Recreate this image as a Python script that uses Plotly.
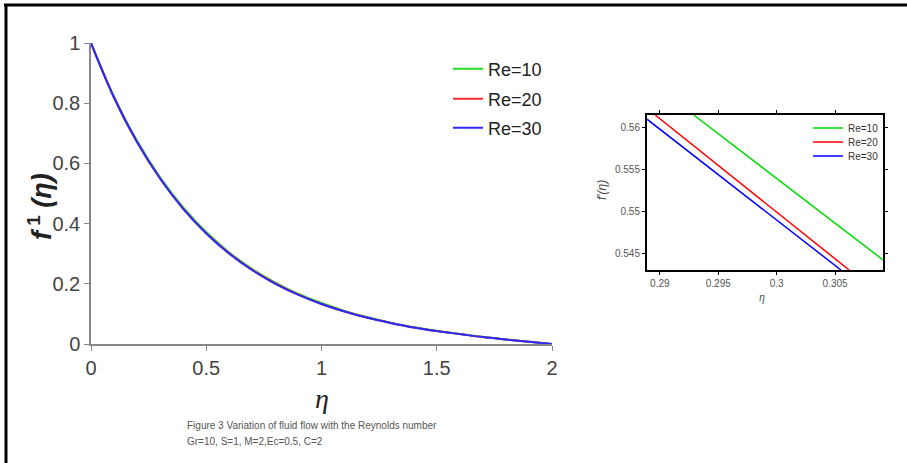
import plotly.graph_objects as go

# ---- data ----
eta = [0.0, 0.1, 0.2, 0.3, 0.4, 0.5, 0.6, 0.7, 0.8, 0.9, 1.0,
       1.1, 1.2, 1.3, 1.4, 1.5, 1.6, 1.7, 1.8, 1.9, 2.0]
f_re10 = [1.0, 0.822, 0.675, 0.554, 0.454, 0.372, 0.304, 0.249, 0.204, 0.166, 0.136,
          0.110, 0.089, 0.071, 0.056, 0.044, 0.033, 0.024, 0.015, 0.0075, 0.0]
f_re20 = [1.0, 0.819, 0.671, 0.550, 0.450, 0.368, 0.301, 0.246, 0.201, 0.164, 0.133,
          0.108, 0.087, 0.070, 0.055, 0.043, 0.033, 0.023, 0.015, 0.0074, 0.0]
f_re30 = [1.0, 0.818, 0.670, 0.549, 0.449, 0.367, 0.300, 0.245, 0.200, 0.163, 0.133,
          0.108, 0.087, 0.070, 0.055, 0.043, 0.033, 0.023, 0.015, 0.0074, 0.0]
names = ["Re=10", "Re=20", "Re=30"]

# inset (zoomed) segments
zx_re10 = [0.2929, 0.3091]
zy_re10 = [0.5615, 0.5443]
zx_re20 = [0.2896, 0.3062]
zy_re20 = [0.5615, 0.5431]
zx_re30 = [0.2889, 0.3055]
zy_re30 = [0.5610, 0.5431]

main_xticks = [0, 0.5, 1, 1.5, 2]
main_xlabels = ["0", "0.5", "1", "1.5", "2"]
main_yticks = [0, 0.2, 0.4, 0.6, 0.8, 1]
main_ylabels = ["0", "0.2", "0.4", "0.6", "0.8", "1"]
ins_xticks = [0.29, 0.295, 0.3, 0.305]
ins_xlabels = ["0.29", "0.295", "0.3", "0.305"]
ins_yticks = [0.545, 0.55, 0.555, 0.56]
ins_ylabels = ["0.545", "0.55", "0.555", "0.56"]

caption1 = "Figure 3 Variation of fluid flow with the Reynolds number"
caption2 = "Gr=10, S=1, M=2,Ec=0.5, C=2"

main_colors = ["#22dd22", "#ff2a2a", "#2a2aff"]
ins_colors = ["#00dd00", "#ff0000", "#0000ff"]

W, H = 907, 463


def px_x(p):
    return p / W


def px_y(p):
    return 1 - p / H


main_leg_rows = [69, 99, 128]
ins_leg_rows = [128, 142, 156]

fig = go.Figure()
for i, (y, n, c) in enumerate(zip([f_re10, f_re20, f_re30], names, main_colors)):
    fig.add_trace(go.Scatter(x=eta, y=y, mode="lines", name=n,
                             line=dict(color=c, width=2, shape="spline"),
                             xaxis="x", yaxis="y", legend="legend" if i == 0 else f"legend{i+1}"))
for i, (x, y, n, c) in enumerate(zip([zx_re10, zx_re20, zx_re30], [zy_re10, zy_re20, zy_re30],
                                     names, ins_colors)):
    fig.add_trace(go.Scatter(x=x, y=y, mode="lines", name=n,
                             line=dict(color=c, width=1.5),
                             xaxis="x2", yaxis="y2", legend=f"legend{i+4}"))

tick_font = dict(family="Arial, sans-serif", size=20, color="#444444")
ins_font = dict(family="Arial, sans-serif", size=10, color="#555555")

legends = {}
for i, r in enumerate(main_leg_rows):
    key = "legend" if i == 0 else f"legend{i+1}"
    legends[key] = dict(x=px_x(448), y=px_y(r), xanchor="left", yanchor="middle",
                        bgcolor="rgba(0,0,0,0)", itemwidth=30,
                        font=dict(family="Arial, sans-serif", size=18, color="#222222"))
for i, r in enumerate(ins_leg_rows):
    legends[f"legend{i+4}"] = dict(x=px_x(808), y=px_y(r), xanchor="left", yanchor="middle",
                                   bgcolor="rgba(0,0,0,0)", itemwidth=30,
                                   font=dict(family="Arial, sans-serif", size=10, color="#333333"))

fig.update_layout(
    width=W, height=H,
    margin=dict(l=0, r=0, t=0, b=0),
    paper_bgcolor="white", plot_bgcolor="white",
    xaxis=dict(domain=[px_x(91), px_x(552)], range=[0, 2],
               tickvals=main_xticks, ticktext=main_xlabels,
               showgrid=False, zeroline=False, showline=True,
               linecolor="#888888", linewidth=1.5,
               ticks="outside", ticklen=5, tickcolor="#888888",
               tickfont=tick_font, anchor="y", automargin=False),
    yaxis=dict(domain=[px_y(344), px_y(43)], range=[0, 1],
               tickvals=main_yticks, ticktext=main_ylabels,
               showgrid=False, zeroline=False, showline=True,
               linecolor="#888888", linewidth=1.5,
               ticks="outside", ticklen=5, tickcolor="#888888",
               tickfont=tick_font, anchor="x", automargin=False),
    xaxis2=dict(domain=[px_x(647), px_x(883)], range=[0.2889, 0.3091],
                tickvals=ins_xticks, ticktext=ins_xlabels,
                showgrid=False, zeroline=False, showline=True, mirror="ticks",
                linecolor="black", linewidth=2,
                ticks="outside", ticklen=3, tickcolor="black",
                tickfont=ins_font, anchor="y2", automargin=False),
    yaxis2=dict(domain=[px_y(270), px_y(115)], range=[0.5431, 0.5615],
                tickvals=ins_yticks, ticktext=ins_ylabels,
                showgrid=False, zeroline=False, showline=True, mirror="ticks",
                linecolor="black", linewidth=2,
                ticks="outside", ticklen=3, tickcolor="black",
                tickfont=ins_font, anchor="x2", automargin=False),
    showlegend=True,
    **legends,
)

ann = [
    dict(text="<b><i>f</i><sup> 1</sup> <i>(η)</i></b>", x=px_x(40), y=px_y(207),
         textangle=-90, font=dict(family="Arial, sans-serif", size=27, color="#222222")),
    dict(text="<i>η</i>", x=px_x(322), y=px_y(398),
         font=dict(family="Liberation Serif, Times New Roman, serif", size=28, color="#222222")),
    dict(text=caption1, x=px_x(185), y=px_y(425), xanchor="left",
         font=dict(family="Arial, sans-serif", size=10, color="#555555")),
    dict(text=caption2, x=px_x(185), y=px_y(441), xanchor="left",
         font=dict(family="Arial, sans-serif", size=10, color="#555555")),
    dict(text="<i>f'(η)</i>", x=px_x(602), y=px_y(190), textangle=-90,
         font=dict(family="Arial, sans-serif", size=12, color="#444444")),
    dict(text="<i>η</i>", x=px_x(762), y=px_y(297),
         font=dict(family="Liberation Serif, serif", size=12, color="#555555")),
]
for a in ann:
    a.setdefault("xanchor", "center")
    a.update(xref="paper", yref="paper", showarrow=False, yanchor="middle")
fig.update_layout(annotations=ann)

fig.update_layout(shapes=[
    dict(type="line", xref="paper", yref="paper", x0=px_x(4), x1=1.0,
         y0=px_y(5), y1=px_y(5), line=dict(color="black", width=3)),
    dict(type="line", xref="paper", yref="paper", x0=px_x(6), x1=px_x(6),
         y0=px_y(4), y1=0.0, line=dict(color="black", width=3)),
])

fig.write_html("out.html")
